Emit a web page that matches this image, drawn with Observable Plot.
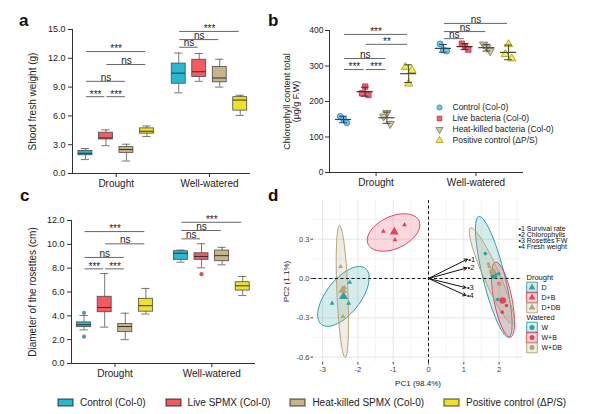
<!DOCTYPE html>
<html><head><meta charset="utf-8">
<script src="https://cdn.jsdelivr.net/npm/d3@7"></script>
<script src="https://cdn.jsdelivr.net/npm/@observablehq/plot@0.6"></script>
<style>
body{margin:0;background:#fff;font-family:'Liberation Sans',Arial,Helvetica,sans-serif;}
#fig{position:relative;width:600px;height:414px;overflow:hidden;background:#fff}
.pane{position:absolute}
.lab{position:absolute;font-weight:bold;font-size:17px;line-height:17px;color:#111}
.bl-swatches{font-family:'Liberation Sans',Arial,sans-serif !important;font-size:10px !important;color:#222 !important;margin:0 !important}
.bl-swatch{margin-right:20px !important}
.bl-swatch > svg{margin-right:7px !important;overflow:visible !important}
.bl-swatch > svg rect{stroke:rgba(0,0,0,0.45);stroke-width:1.6px}
</style></head><body><div id="fig"></div>
<script>
// ---------------- data ----------------
const conditions = ["Drought", "Well-watered"];
const treatments = ["Control (Col-0)", "Live SPMX (Col-0)", "Heat-killed SPMX (Col-0)", "Positive control (ΔP/S)"];
const boxFill = ["#29b8ce", "#f15b61", "#c8b48a", "#eee02c"];
const outlierFill = ["#5f93a6", "#d8505a", "#9a8c6a", "#b8ad2a"];

// Panel a: shoot fresh weight (g); order Drought x4, Well-watered x4
const aLow  = [1.45, 2.9, 1.3, 3.85, 8.4, 9.6, 9.0, 6.05];
const aQ1   = [1.9, 3.55, 2.15, 4.15, 9.35, 10.05, 9.5, 6.55];
const aMed  = [2.1, 3.7, 2.5, 4.4, 10.45, 10.6, 9.95, 7.65];
const aQ3   = [2.35, 4.25, 2.75, 4.7, 11.45, 11.85, 11.1, 7.95];
const aHigh = [2.6, 4.55, 3.05, 4.95, 12.55, 12.5, 11.9, 8.15];
const aTicks = [0, 3, 6, 9, 12, 15];
const aSig = [
  ["Drought", 0, 3, 12.7, "***"], ["Drought", 1, 3, 11.35, "ns"], ["Drought", 0, 2, 9.6, "ns"],
  ["Drought", 0, 1, 8.0, "***"], ["Drought", 1, 2, 8.0, "***"],
  ["Well-watered", 0, 3, 14.8, "***"], ["Well-watered", 0, 2, 13.95, "ns"], ["Well-watered", 0, 1, 13.15, "ns"]
];

// Panel b: chlorophyll content (µg/g F.W), three replicates per group
const bLabels = ["Control (Col-0)", "Live bacteria (Col-0)", "Heat-killed bacteria (Col-0)", "Positive control (ΔP/S)"];
const bReps = [[158, 150, 140], [223, 242, 218], [158, 168, 137], [297, 250, 288],
               [362, 345, 342], [363, 355, 346], [361, 352, 342], [333, 361, 321]];
const bTicks = [0, 100, 200, 300, 400];
const bFill = ["#6cc6e4", "#e8677a", "#cfc8a6", "#f3eb48"];
const bStroke = ["#2d86b0", "#b4304a", "#77725a", "#9a9628"];
const bLine = ["#25465f", "#5a1e28", "#4a463a", "#4a4a1e"];
const bSig = [
  ["Drought", 0, 3, 389, "***"], ["Drought", 1, 3, 361, "**"], ["Drought", 0, 2, 321, "ns"],
  ["Drought", 0, 1, 290, "***"], ["Drought", 1, 2, 290, "***"],
  ["Well-watered", 0, 3, 420, "ns"], ["Well-watered", 0, 2, 397, "ns"], ["Well-watered", 0, 1, 377, "ns"]
];

// Panel c: diameter of the rosettes (cm)
const cLow  = [2.82, 3.05, 2.0, 4.15, 8.5, 8.03, 8.28, 5.7];
const cQ1   = [3.05, 4.3, 2.63, 4.35, 8.7, 8.7, 8.58, 6.12];
const cMed  = [3.25, 4.7, 3.1, 4.85, 9.25, 8.98, 9.05, 6.52];
const cQ3   = [3.45, 5.6, 3.32, 5.43, 9.42, 9.25, 9.48, 6.82];
const cHigh = [4.03, 7.55, 4.22, 6.3, 9.52, 10.05, 9.75, 7.3];
const cOutliers = [["Drought", 0, 4.25], ["Drought", 0, 2.25], ["Well-watered", 1, 7.5]];
const cTicks = [0, 2, 4, 6, 8, 10, 12];
const cSig = [
  ["Drought", 0, 3, 11.07, "***"], ["Drought", 1, 3, 10.04, "ns"], ["Drought", 0, 2, 8.9, "ns"],
  ["Drought", 0, 1, 7.94, "***"], ["Drought", 1, 2, 7.94, "***"],
  ["Well-watered", 0, 3, 11.85, "***"], ["Well-watered", 0, 2, 11.16, "ns"], ["Well-watered", 0, 1, 10.46, "ns"]
];

// Panel d: PCA
const pcaGroups = ["D", "D+B", "D+DB", "W", "W+B", "W+DB"];
const pcaColor = ["#2f9fa2", "#e2435b", "#b6a37a", "#2f9fa2", "#e2435b", "#b6a37a"];
const sampleGroup = ["D","D","D","D+B","D+B","D+B","D+DB","D+DB","D+DB","W","W","W","W+B","W+B","W+B","W+DB","W+DB","W+DB"];
const samplePC1 = [-2.73, -2.23, -2.26, -1.28, -0.68, -0.95, -2.49, -2.42, -2.38, 1.61, 1.99, 1.96, 2.21, 2.09, 2.0, 1.72, 2.02, 1.70];
const samplePC2 = [-0.19, -0.03, -0.19, 0.36, 0.41, 0.295, 0.09, -0.29, -0.07, 0.19, 0.036, -0.16, -0.206, -0.257, -0.04, 0.09, -0.046, 0.11];
// confidence ellipses: centre and two semi-axis vectors (PC units)
const ellCx = [-2.41, -0.99, -2.44, 1.85, 2.11, 1.79];
const ellCy = [-0.137, 0.351, -0.099, 0.013, -0.162, 0.02];
const ellAx = [0.623, 0.72, -0.079, -0.425, -0.212, -0.60];
const ellAy = [0.214, 0.09, 0.504, 0.46, 0.286, 0.366];
const ellBx = [0.38, 0.193, 0.156, 0.30, 0.25, 0.207];
const ellBy = [-0.08, -0.111, 0, 0.02, 0.014, 0.024];
const loadLabels = ["1", "2", "3", "4"];
const loadNames = ["Survival rate", "Chlorophylls", "Rosettes FW", "Fresh weight"];
const loadPC1 = [1.1, 1.08, 1.06, 1.06];
const loadPC2 = [0.147, 0.08, -0.07, -0.13];
const pcaXTicks = [-3, -2, -1, 0, 1, 2];
const pcaYTicks = [-0.6, -0.3, 0, 0.3];

// ---------------- layout helpers ----------------
const FONT = "'Liberation Sans', Arial, Helvetica, sans-serif";
const fig = document.getElementById("fig");
function place(node, left, top, w) {
  const d = document.createElement("div");
  d.className = "pane"; d.style.left = left + "px"; d.style.top = top + "px";
  if (w) d.style.width = w + "px";
  d.appendChild(node); fig.appendChild(d);
}
function letter(t, left, top) {
  const d = document.createElement("div"); d.className = "lab"; d.textContent = t;
  d.style.left = left + "px"; d.style.top = top + "px"; fig.appendChild(d);
}
const style = {background: "transparent", fontFamily: FONT, fontSize: "9px", color: "#222", overflow: "visible"};
const triDown = {draw(ctx, size) {
  const y = -Math.sqrt(size / (Math.sqrt(3) * 3));
  ctx.moveTo(0, -y * 2); ctx.lineTo(-Math.sqrt(3) * y, y); ctx.lineTo(Math.sqrt(3) * y, y); ctx.closePath();
}};
const bSymbols = ["circle", "square", triDown, "triangle"];

function sigMarks(sig) {
  return [
    Plot.ruleY(sig, {y: "y", x1: "x1", x2: "x2", stroke: "#666", strokeWidth: 1}),
    Plot.text(sig.filter(d => d.label !== "ns"), {x: "xm", y: "y", text: "label", lineAnchor: "bottom", dy: 0.8, fontSize: 10, fill: "#222"}),
    Plot.text(sig.filter(d => d.label === "ns"), {x: "xm", y: "y", text: "label", lineAnchor: "bottom", dy: -0.8, fontSize: 10, fill: "#222"})
  ];
}

function boxPanel(cfg) {
  const nT = treatments.length;
  const pos = (c, ti) => conditions.indexOf(c) * cfg.gap + ti;
  const rows = [];
  conditions.forEach((c, ci) => treatments.forEach((t, ti) => {
    const k = ci * nT + ti;
    rows.push({ti, x: pos(c, ti), lo: cfg.low[k], q1: cfg.q1[k], med: cfg.med[k], q3: cfg.q3[k], hi: cfg.high[k]});
  }));
  const outs = cfg.outliers.map(([c, ti, v]) => ({ti, x: pos(c, ti), v}));
  const sig = cfg.sig.map(([c, a, b, y, label]) => ({x1: pos(c, a) + 0.05, x2: pos(c, b) - 0.05, xm: (pos(c, a) + pos(c, b)) / 2, y, label}));
  const centers = conditions.map(c => pos(c, (nT - 1) / 2));
  const hw = 0.34, cw = 0.2;
  return Plot.plot({
    width: cfg.width, height: cfg.height,
    marginLeft: cfg.ml, marginRight: cfg.mr, marginTop: cfg.mt, marginBottom: cfg.mb,
    style,
    x: {domain: cfg.xDomain},
    y: {domain: [0, cfg.yMax]},
    marks: [
      Plot.ruleX(rows, {x: "x", y1: "lo", y2: "hi", stroke: "#555", strokeWidth: 0.8}),
      Plot.ruleY(rows, {y: "lo", x1: d => d.x - cw, x2: d => d.x + cw, stroke: "#555", strokeWidth: 0.8}),
      Plot.ruleY(rows, {y: "hi", x1: d => d.x - cw, x2: d => d.x + cw, stroke: "#555", strokeWidth: 0.8}),
      Plot.rect(rows, {x1: d => d.x - hw, x2: d => d.x + hw, y1: "q1", y2: "q3", fill: d => boxFill[d.ti], stroke: "#4a4a4a", strokeWidth: 0.8}),
      Plot.ruleY(rows, {y: "med", x1: d => d.x - hw, x2: d => d.x + hw, stroke: "#333", strokeWidth: 1}),
      Plot.dot(outs, {x: "x", y: "v", r: 2.1, fill: d => outlierFill[d.ti]}),
      ...sigMarks(sig),
      Plot.ruleX([cfg.xDomain[0]], {stroke: "#333", strokeWidth: 1}),
      Plot.ruleY([0], {stroke: "#333", strokeWidth: 1}),
      Plot.axisY({ticks: cfg.yTicks, tickFormat: d3.format(".1f"), tickSize: 4, tickPadding: 3, fontSize: 9, label: null, stroke: "#333"}),
      Plot.axisY({ticks: [], label: cfg.yLabel, labelAnchor: "center", labelArrow: "none", labelOffset: cfg.labelOffset, fontSize: 10}),
      Plot.axisX({ticks: centers, tickFormat: d => conditions[centers.indexOf(d)], tickSize: 4, tickPadding: 2, fontSize: 10, label: null, stroke: "#333"})
    ]
  });
}

// ---------------- panel a ----------------
place(boxPanel({width: 290, height: 195, ml: 72, mr: 40, mt: 29, mb: 22, gap: 4.55, xDomain: [-0.63, 8.05],
  yMax: 15, yTicks: aTicks, yLabel: "Shoot fresh weight (g)", labelOffset: 44,
  low: aLow, q1: aQ1, med: aMed, q3: aQ3, high: aHigh, outliers: [], sig: aSig}), 0, 0, 290);

// ---------------- panel c ----------------
place(boxPanel({width: 290, height: 197, ml: 71, mr: 35, mt: 30, mb: 24, gap: 4.7, xDomain: [-0.61, 8.32],
  yMax: 12, yTicks: cTicks, yLabel: "Diameter of the rosettes (cm)", labelOffset: 43,
  low: cLow, q1: cQ1, med: cMed, q3: cQ3, high: cHigh, outliers: cOutliers, sig: cSig}), 0, 190, 290);

// ---------------- panel b ----------------
(function () {
  const gap = 4.6, nT = treatments.length;
  const pos = (c, ti) => conditions.indexOf(c) * gap + ti;
  const jitter = [-0.15, 0, 0.15];
  const pts = [], stats = [];
  conditions.forEach((c, ci) => bLabels.forEach((t, ti) => {
    const vals = bReps[ci * nT + ti];
    vals.forEach((v, r) => pts.push({ti, x: pos(c, ti) + jitter[r], v}));
    const m = d3.mean(vals), s = d3.deviation(vals);
    stats.push({ti, x: pos(c, ti), m, lo: m - s, hi: m + s});
  }));
  const sig = bSig.map(([c, a, b, y, label]) => ({x1: pos(c, a) + 0.05, x2: pos(c, b) - 0.05, xm: (pos(c, a) + pos(c, b)) / 2, y, label}));
  const centers = conditions.map(c => pos(c, (nT - 1) / 2));
  const plot = Plot.plot({
    width: 330, height: 195, marginLeft: 59, marginRight: 77, marginTop: 30, marginBottom: 23,
    style,
    x: {domain: [-0.645, 8.29]},
    y: {domain: [0, 400]},
    marks: [
      Plot.dot(pts, {x: "x", y: "v", symbol: d => bSymbols[d.ti], fill: d => bFill[d.ti], stroke: d => bStroke[d.ti], r: 3.0, strokeWidth: 0.8}),
      Plot.ruleY(stats, {y: "m", x1: d => d.x - 0.37, x2: d => d.x + 0.37, stroke: d => bLine[d.ti], strokeWidth: 1.2}),
      Plot.ruleX(stats, {x: "x", y1: "lo", y2: "hi", stroke: d => bLine[d.ti], strokeWidth: 1}),
      Plot.ruleY(stats, {y: "lo", x1: d => d.x - 0.18, x2: d => d.x + 0.18, stroke: d => bLine[d.ti], strokeWidth: 1}),
      Plot.ruleY(stats, {y: "hi", x1: d => d.x - 0.18, x2: d => d.x + 0.18, stroke: d => bLine[d.ti], strokeWidth: 1}),
      ...sigMarks(sig),
      Plot.ruleX([-0.645], {stroke: "#333", strokeWidth: 1}),
      Plot.ruleY([0], {stroke: "#333", strokeWidth: 1}),
      Plot.axisY({ticks: bTicks, tickSize: 4, tickPadding: 2, fontSize: 8.5, label: null, stroke: "#333"}),
      Plot.axisY({ticks: [], label: "Chlorophyll content total\n(μg/g F.W)", labelAnchor: "center", labelArrow: "none", labelOffset: 46, fontSize: 9}),
      Plot.axisX({ticks: centers, tickFormat: d => conditions[centers.indexOf(d)], tickSize: 4, tickPadding: 2, fontSize: 10, label: null, stroke: "#333"})
    ]
  });
  place(plot, 270, 0, 330);
  const leg = Plot.plot({
    width: 160, height: 66, marginLeft: 9, marginRight: 0, marginTop: 0, marginBottom: 0, style,
    y: {type: "point", domain: bLabels, range: [10, 56], axis: null},
    marks: [
      Plot.dot(bLabels, {y: d => d, frameAnchor: "left", symbol: (d, i) => bSymbols[i], fill: (d, i) => bFill[i], stroke: (d, i) => bStroke[i], r: 2.6, strokeWidth: 0.8}),
      Plot.text(bLabels, {y: d => d, text: d => d, frameAnchor: "left", dx: 13, textAnchor: "start", fontSize: 8.5, fill: "#222"})
    ]
  });
  place(leg, 430, 90, 160);
})();

// ---------------- panel d ----------------
(function () {
  const samples = sampleGroup.map((g, i) => ({g, k: pcaGroups.indexOf(g), x: samplePC1[i], y: samplePC2[i]}));
  const cents = pcaGroups.map((g, k) => {
    const s = samples.filter(d => d.g === g);
    return {g, k, x: d3.mean(s, d => d.x), y: d3.mean(s, d => d.y)};
  });
  const ell = pcaGroups.flatMap((g, k) => d3.range(0, 360, 5).map(a => {
    const t = a * Math.PI / 180;
    return {g, k, x: ellCx[k] + ellAx[k] * Math.cos(t) + ellBx[k] * Math.sin(t), y: ellCy[k] + ellAy[k] * Math.cos(t) + ellBy[k] * Math.sin(t)};
  }));
  const sym = k => (k < 3 ? "triangle" : "circle");
  const loads = loadLabels.map((l, i) => ({l, x: loadPC1[i], y: loadPC2[i]}));
  const plot = Plot.plot({
    width: 325, height: 200, marginLeft: 38, marginRight: 78, marginTop: 10, marginBottom: 28,
    style,
    x: {domain: [-3.258, 2.663]},
    y: {domain: [-0.641, 0.595]},
    marks: [
      Plot.gridX({ticks: pcaXTicks.map(v => v + 0.5), stroke: "#efefef", strokeOpacity: 1, strokeWidth: 0.6}),
      Plot.gridY({ticks: pcaYTicks.map(v => v + 0.15), stroke: "#efefef", strokeOpacity: 1, strokeWidth: 0.6}),
      Plot.gridX({ticks: pcaXTicks, stroke: "#e0e0e0", strokeOpacity: 1, strokeWidth: 0.8}),
      Plot.gridY({ticks: pcaYTicks, stroke: "#e0e0e0", strokeOpacity: 1, strokeWidth: 0.8}),
      Plot.line(ell, {x: "x", y: "y", z: "g", curve: "linear-closed", fill: d => pcaColor[d.k], fillOpacity: 0.2, stroke: d => pcaColor[d.k], strokeWidth: 1}),
      Plot.ruleX([0], {stroke: "#111", strokeDasharray: "3,2.5", strokeWidth: 1}),
      Plot.ruleY([0], {stroke: "#111", strokeDasharray: "3,2.5", strokeWidth: 1}),
      Plot.arrow(loads, {x1: 0, y1: 0, x2: "x", y2: "y", stroke: "#111", strokeWidth: 1, headLength: 5}),
      Plot.text(loads, {x: "x", y: "y", text: d => "•" + d.l, dx: 1, textAnchor: "start", fontSize: 7.5, fill: "#111"}),
      Plot.dot(samples, {x: "x", y: "y", symbol: d => sym(d.k), fill: d => pcaColor[d.k], r: 1.8}),
      Plot.dot(cents, {x: "x", y: "y", symbol: d => sym(d.k), fill: d => pcaColor[d.k], r: 3.3}),
      Plot.axisX({ticks: pcaXTicks, tickFormat: d => String(d), tickSize: 2.5, tickPadding: 1.5, fontSize: 7.5, fill: "#444", stroke: "#444", label: null}),
      Plot.axisX({ticks: [], label: "PC1 (98.4%)", labelAnchor: "center", labelArrow: "none", labelOffset: 23, fontSize: 8, fill: "#222"}),
      Plot.axisY({ticks: pcaYTicks, tickFormat: d => d.toFixed(1), tickSize: 2.5, tickPadding: 1.5, fontSize: 7.5, fill: "#444", stroke: "#444", label: null}),
      Plot.axisY({ticks: [], label: "PC2 (1.1%)", labelAnchor: "center", labelArrow: "none", labelOffset: 30, fontSize: 8, fill: "#222"})
    ]
  });
  place(plot, 275, 190, 325);

  const idx = Plot.plot({
    width: 85, height: 42, marginLeft: 3, marginRight: 0, marginTop: 0, marginBottom: 0, style,
    y: {type: "point", domain: loadLabels, range: [8, 35], axis: null},
    marks: [Plot.text(loadLabels, {y: d => d, text: (d, i) => "•" + d + " " + loadNames[i], frameAnchor: "left", textAnchor: "start", fontSize: 7, lineHeight: 1.1, fill: "#111"})]
  });
  place(idx, 515, 215, 85);

  const rows = ["Drought", ...pcaGroups.slice(0, 3), "Watered", ...pcaGroups.slice(3)];
  const grp = Plot.plot({
    width: 80, height: 105, marginLeft: 0, marginRight: 0, marginTop: 0, marginBottom: 0, style,
    y: {type: "point", domain: rows, range: [11, 96], axis: null},
    marks: [
      Plot.text(["Drought", "Watered"], {y: d => d, text: d => d, frameAnchor: "left", dx: 6, textAnchor: "start", fontSize: 7.5, fill: "#111"}),
      Plot.dot(pcaGroups, {y: d => d, frameAnchor: "left", dx: 11.5, symbol: "square", r: 6, fill: (d, i) => pcaColor[i], fillOpacity: 0.2, stroke: (d, i) => pcaColor[i], strokeWidth: 0.9}),
      Plot.dot(pcaGroups, {y: d => d, frameAnchor: "left", dx: 11.5, symbol: (d, i) => sym(i), r: 2.5, fill: (d, i) => pcaColor[i]}),
      Plot.text(pcaGroups, {y: d => d, text: d => d, frameAnchor: "left", dx: 21, textAnchor: "start", fontSize: 7, fill: "#111"})
    ]
  });
  place(grp, 520, 258, 80);
})();

// ---------------- bottom legend ----------------
place(Plot.legend({color: {type: "ordinal", domain: treatments, range: boxFill}, swatchWidth: 15, swatchHeight: 7, className: "bl"}), 58, 386, 542);

// ---------------- panel letters ----------------
letter("a", 19, 12); letter("b", 268, 12); letter("c", 20, 187); letter("d", 268, 187);
</script></body></html>
